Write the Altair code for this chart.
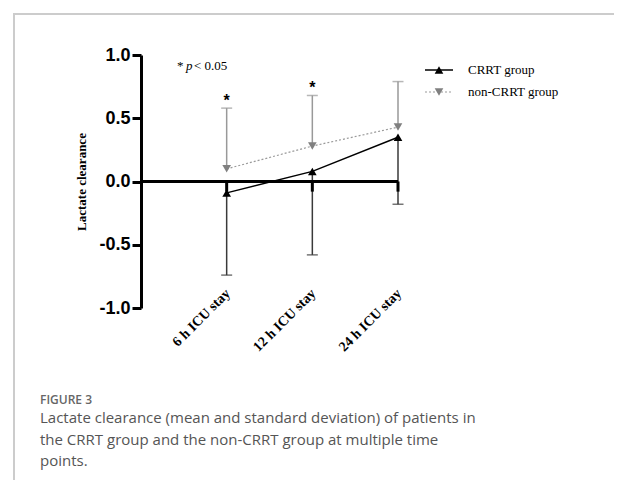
import altair as alt
import pandas as pd

cats = ["6 h ICU stay", "12 h ICU stay", "24 h ICU stay"]
pos = [1, 2, 3]
crrt_mean = [-0.09, 0.08, 0.35]
crrt_lower = [-0.74, -0.58, -0.18]
non_mean = [0.10, 0.28, 0.43]
non_upper = [0.58, 0.68, 0.79]
stars = ["*", "*", ""]
y_ticks = [-1.0, -0.5, 0.0, 0.5, 1.0]
caption_title = "FIGURE 3"
caption_lines = [
    "Lactate clearance (mean and standard deviation) of patients in",
    "the CRRT group and the non-CRRT group at multiple time",
    "points.",
]

df = pd.DataFrame({
    "cat": cats, "pos": pos,
    "crrt_mean": crrt_mean, "crrt_lower": crrt_lower,
    "non_mean": non_mean, "non_upper": non_upper,
    "star": stars,
    "zero": [0.0, 0.0, 0.0],
    "tick_end": [-0.08, -0.08, -0.08],
    "label_y": [-0.88, -0.88, -0.88],
})
zdf = pd.DataFrame({"x0": [0], "x1": [3], "y": [0.0]})
one = pd.DataFrame({"k": [0]})

W, H = 257, 253
xs = alt.Scale(domain=[0, 3], nice=False, zero=False)
ys = alt.Scale(domain=[-1, 1], nice=False)

yaxis = alt.Axis(values=y_ticks, grid=False, domainWidth=3,
                 labelExpr="datum.value < 0 ? '-' + format(-datum.value, '.1f') : format(datum.value, '.1f')",
                 domainColor="black", tickWidth=3, tickColor="black", tickSize=9,
                 labelPadding=2, labelFont="Liberation Sans", labelFontWeight="bold",
                 labelFontSize=18, labelColor="black", title="Lactate clearance",
                 titleFont="Liberation Serif", titleFontWeight="bold",
                 titleFontSize=13, titleColor="black", titlePadding=10)

base = alt.Chart(df)

def X(f="pos:Q"):
    return alt.X(f, scale=xs, axis=None)

def Y(f):
    return alt.Y(f, scale=ys, axis=yaxis)

crrt_bar = base.mark_rule(color="#3a3a3a", strokeWidth=1.5).encode(
    x=X(), y=Y("crrt_mean:Q"), y2="crrt_lower:Q")
crrt_cap = base.mark_tick(color="#3a3a3a", orient="horizontal", size=11, thickness=1.5).encode(
    x=X(), y=Y("crrt_lower:Q"))
non_bar = base.mark_rule(color="#999999", strokeWidth=1.5).encode(
    x=X(), y=Y("non_mean:Q"), y2="non_upper:Q")
non_cap = base.mark_tick(color="#999999", orient="horizontal", size=11, thickness=1.5).encode(
    x=X(), y=Y("non_upper:Q"))

zero_line = alt.Chart(zdf).mark_rule(color="black", strokeWidth=3).encode(
    x=X("x0:Q"), x2="x1:Q", y=Y("y:Q"))
cat_ticks = base.mark_rule(color="black", strokeWidth=3).encode(
    x=X(), y=Y("zero:Q"), y2="tick_end:Q")

crrt_line = base.mark_line(color="black", strokeWidth=1.5).encode(
    x=X(), y=Y("crrt_mean:Q"))
non_line = base.mark_line(color="#9a9a9a", strokeWidth=1.2, strokeDash=[2, 2]).encode(
    x=X(), y=Y("non_mean:Q"))

crrt_pts = base.mark_point(shape="triangle-up", filled=True, color="black", size=75, opacity=1).encode(
    x=X(), y=Y("crrt_mean:Q"))
non_pts = base.mark_point(shape="triangle-down", filled=True, color="#808080", size=75, opacity=1).encode(
    x=X(), y=Y("non_mean:Q"))

star_txt = base.mark_text(font="Liberation Sans", fontWeight="bold", fontSize=16,
                          baseline="alphabetic", dy=-2, color="black").encode(
    x=X(), y=Y("non_upper:Q"), text="star:N")

cat_labels = base.mark_text(font="Liberation Serif", fontWeight="bold", fontSize=14,
                            angle=315, align="right", baseline="middle", dx=2, color="black").encode(
    x=X(), y=Y("label_y:Q"), text="cat:N")

oc = alt.Chart(one)
def txt(s, x, y, **kw):
    return oc.mark_text(text=s, align="left", **kw).encode(x=alt.value(x), y=alt.value(y))

serif = dict(font="Liberation Serif", fontSize=13, baseline="middle", color="black")
note1 = txt("* ", 36, 11, **serif)
note2 = txt("p", 45, 11, fontStyle="italic", **serif)
note3 = txt("< 0.05", 53, 11, **serif)

leg1 = oc.mark_rule(color="black", strokeWidth=1.5).encode(x=alt.value(284), x2=alt.value(312), y=alt.value(15))
leg2 = oc.mark_point(shape="triangle-up", filled=True, color="black", size=75, opacity=1).encode(x=alt.value(298), y=alt.value(15))
leg3 = txt("CRRT group", 327, 15, **serif)
leg4 = oc.mark_rule(color="#9a9a9a", strokeWidth=1.2, strokeDash=[2, 2]).encode(x=alt.value(284), x2=alt.value(312), y=alt.value(37))
leg5 = oc.mark_point(shape="triangle-down", filled=True, color="#808080", size=75, opacity=1).encode(x=alt.value(298), y=alt.value(37))
leg6 = txt("non-CRRT group", 327, 37, **serif)

frame = oc.mark_rect(filled=False, stroke="#cccccc", strokeWidth=2).encode(
    x=alt.value(-127), x2=alt.value(495), y=alt.value(-41), y2=alt.value(445))

cap0 = txt(caption_title, -101, 349, font="Open Sans", fontWeight=600, fontSize=12,
           baseline="alphabetic", color="#666666")
caps = [txt(line, -101, 368 + 21.5 * i, font="Open Sans", fontSize=15,
            baseline="alphabetic", color="#555555") for i, line in enumerate(caption_lines)]

chart = alt.layer(
    crrt_bar, frame, crrt_cap, non_bar, non_cap, crrt_line, non_line,
    zero_line, cat_ticks, crrt_pts, non_pts, star_txt, cat_labels,
    note1, note2, note3, leg1, leg2, leg3, leg4, leg5, leg6, cap0, *caps,
).properties(
    width=W, height=H,
    autosize=alt.AutoSizeParams(type="none"),
    padding={"left": 133, "top": 47, "right": 216, "bottom": 172},
).configure_view(stroke=None)

chart.save("out.html", embed_options={"renderer": "svg", "actions": False})
